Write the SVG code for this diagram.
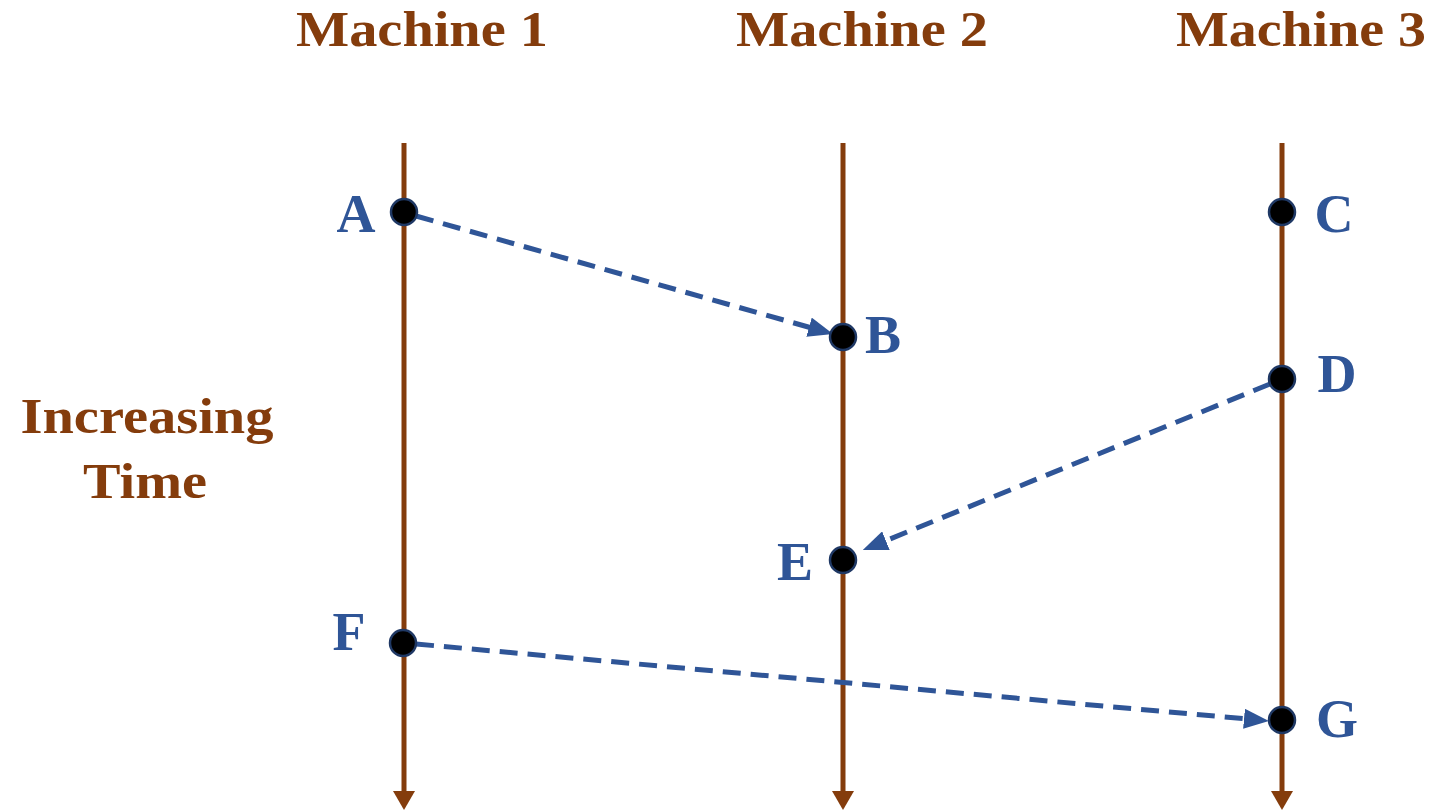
<svg xmlns="http://www.w3.org/2000/svg" width="1430" height="811" viewBox="0 0 1430 811">
<style>
.hdr{font-family:"Liberation Serif","DejaVu Serif",serif;font-weight:bold;fill:#843C0C;font-size:50px}
.lbl{font-family:"Liberation Serif","DejaVu Serif",serif;font-weight:bold;fill:#2F5597;font-size:54px}
.tl{stroke:#843C0C;stroke-width:5;fill:none}
.msg{stroke:#2F5597;stroke-width:5;fill:none;stroke-dasharray:18 10}
.ev{fill:#000;stroke:#1F3864;stroke-width:2.5}
</style>
<defs>
<marker id="brown" markerUnits="userSpaceOnUse" markerWidth="20" markerHeight="22" viewBox="0 0 20 22" refX="1" refY="11" orient="auto">
<path d="M0,0 L19,11 L0,22 Z" fill="#843C0C"/>
</marker>
<marker id="blue" markerUnits="userSpaceOnUse" markerWidth="25" markerHeight="20" viewBox="0 0 25 20" refX="1" refY="10" orient="auto">
<path d="M0,0 L25,10 L0,20 Z" fill="#2F5597"/>
</marker>
</defs>
<g id="headers">
<text class="hdr" x="422" y="46" text-anchor="middle" textLength="252" lengthAdjust="spacingAndGlyphs">Machine 1</text>
<text class="hdr" x="862" y="46" text-anchor="middle" textLength="252" lengthAdjust="spacingAndGlyphs">Machine 2</text>
<text class="hdr" x="1301" y="46" text-anchor="middle" textLength="250" lengthAdjust="spacingAndGlyphs">Machine 3</text>
</g>
<g id="time-label">
<text class="hdr" x="147" y="433" text-anchor="middle" font-size="52" textLength="253" lengthAdjust="spacingAndGlyphs">Increasing</text>
<text class="hdr" x="145" y="498" text-anchor="middle" font-size="52" textLength="124" lengthAdjust="spacingAndGlyphs">Time</text>
</g>
<g id="timelines">
<line id="m1" class="tl" x1="404" y1="143" x2="404" y2="792" marker-end="url(#brown)"/>
<line id="m2" class="tl" x1="843" y1="143" x2="843" y2="792" marker-end="url(#brown)"/>
<line id="m3" class="tl" x1="1282" y1="143" x2="1282" y2="792" marker-end="url(#brown)"/>
</g>
<g id="connectors">
<line class="msg" x1="416" y1="216" x2="810" y2="327.5" marker-end="url(#blue)"/>
<line class="msg" x1="1270" y1="384" x2="885" y2="541" marker-end="url(#blue)"/>
<line class="msg" x1="416" y1="644" x2="1245" y2="718.8" marker-end="url(#blue)"/>
</g>
<g id="A"><circle class="ev" cx="404" cy="212" r="13"/><text class="lbl" x="356" y="232" text-anchor="middle">A</text></g>
<g id="B"><circle class="ev" cx="843" cy="337" r="13"/><text class="lbl" x="883" y="353" text-anchor="middle">B</text></g>
<g id="C"><circle class="ev" cx="1282" cy="212" r="13"/><text class="lbl" x="1334" y="232" text-anchor="middle">C</text></g>
<g id="D"><circle class="ev" cx="1282" cy="379" r="13"/><text class="lbl" x="1337" y="392" text-anchor="middle">D</text></g>
<g id="E"><circle class="ev" cx="843" cy="560" r="13"/><text class="lbl" x="795" y="580" text-anchor="middle">E</text></g>
<g id="F"><circle class="ev" cx="403" cy="643" r="13"/><text class="lbl" x="349" y="650" text-anchor="middle">F</text></g>
<g id="G"><circle class="ev" cx="1282" cy="720" r="13"/><text class="lbl" x="1337" y="737" text-anchor="middle">G</text></g>
</svg>
